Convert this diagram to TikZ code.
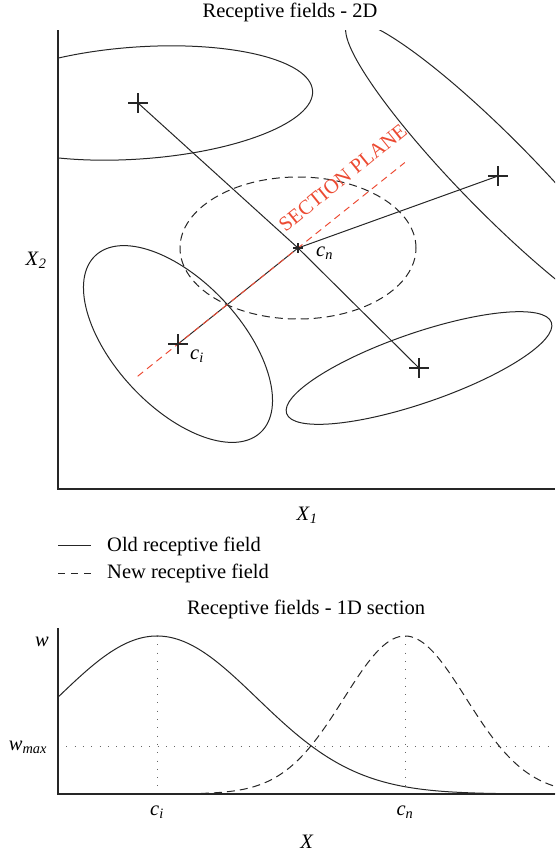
\documentclass[tikz,border=0pt]{standalone}
\usepackage{fontspec}
\setmainfont{Liberation Serif}
\usetikzlibrary{calc}
\definecolor{sectred}{RGB}{236,74,50}
\newcommand{\itsub}[2]{\textit{#1}\textsubscript{\textit{#2}}}

\begin{document}
\begin{tikzpicture}[x=1pt, y=-1pt, font=\fontsize{20.5}{24}\selectfont,
    every node/.style={inner sep=0pt},
    axisline/.style={line width=1.3pt, black!85},
    oldfield/.style={line width=1pt, black!85},
    newfield/.style={line width=1pt, black!85, dash pattern=on 8pt off 5pt},
    guide/.style={line width=1pt, black!60, dash pattern=on 0.8pt off 7.5pt},
    markline/.style={line width=1.1pt, black!85}]

    \useasboundingbox (0,0) rectangle (555,857);

    % 2D plane
    \node[anchor=base] (title2d) at (290,17) {Receptive fields - 2D};

    \coordinate (P1) at (138,103);
    \coordinate (P3) at (419,368);
    \coordinate (P4) at (498,176);
    \coordinate (ci) at (178,344);
    \coordinate (cn) at (298,248);

    \begin{scope}
        \clip (58,30) rectangle (555,489);
        \draw[oldfield, rotate around={4:(P1)}] (P1) ellipse [x radius=175pt, y radius=56pt];
        \draw[oldfield, rotate around={-45.5:(P4)}] (P4) ellipse [x radius=214pt, y radius=37pt];
    \end{scope}
    \draw[oldfield, rotate around={-47:(ci)}] (ci) ellipse [x radius=121pt, y radius=63pt];
    \draw[oldfield, rotate around={19:(P3)}] (P3) ellipse [x radius=140pt, y radius=35pt];
    \draw[newfield] (cn) ellipse [x radius=118pt, y radius=71pt];

    \draw[axisline] (58,30) -- (58,489) -- (555,489);
    \node[anchor=base] (X2) at (36,265) {\itsub{X}{2}};
    \node[anchor=base] (X1) at (307,520) {\itsub{X}{1}};

    \draw[oldfield] (P1) -- (cn) -- (P3);
    \draw[oldfield] (ci) -- (cn) -- (P4);
    \draw[sectred, line width=1pt, dash pattern=on 7pt off 5pt]
        ($(ci)!-0.336!(cn)$) -- ($(ci)!1.89!(cn)$);
    \node[sectred, anchor=base, rotate=39] (sectlab) at (347,183) {SECTION PLANE};

    \foreach \p in {P1,P3,P4,ci}
        \draw[markline] (\p) +(-10,0) -- +(10,0) (\p) +(0,-10) -- +(0,10);
    \draw[markline] (cn) +(-5,0) -- +(5,0) (cn) +(0,-5) -- +(0,5);

    \node[anchor=base west] (cnlab) at (316,256) {\itsub{c}{n}};
    \node[anchor=base west] (cilab) at (190,359) {\itsub{c}{i}};

    % legend
    \coordinate (oldkey) at (58,545);
    \coordinate (newkey) at (58,573);
    \draw[oldfield] (oldkey) -- ++(33,0);
    \draw[oldfield, dash pattern=on 7pt off 6pt] (newkey) -- ++(33,0);
    \node[anchor=base west] (oldlab) at (107,551) {Old receptive field};
    \node[anchor=base west] (newlab) at (107,578) {New receptive field};

    % 1D section
    \node[anchor=base] (title1d) at (306,614) {Receptive fields - 1D section};

    \draw[guide] (58,746) -- (555,746);
    \draw[guide] (157,636) -- (157,794);
    \draw[guide] (405,636) -- (405,794);

    \draw[oldfield, domain=58:555, samples=160]
        plot (\x, {794-158*exp(-0.5*((\x-157)/100)*((\x-157)/100))});
    \draw[newfield, domain=58:555, samples=160]
        plot (\x, {794-158*exp(-0.5*((\x-405)/61)*((\x-405)/61))});

    \draw[axisline] (58,628) -- (58,794) -- (555,794);

    \node[anchor=base] (wlab) at (42,646) {\textit{w}};
    \node[anchor=base] (wmaxlab) at (28,750) {\itsub{w}{max}};
    \node[anchor=base] (cilow) at (157,815) {\itsub{c}{i}};
    \node[anchor=base] (cnlow) at (405,815) {\itsub{c}{n}};
    \node[anchor=base] (Xlab) at (307,848) {\textit{X}};

\end{tikzpicture}
\end{document}
